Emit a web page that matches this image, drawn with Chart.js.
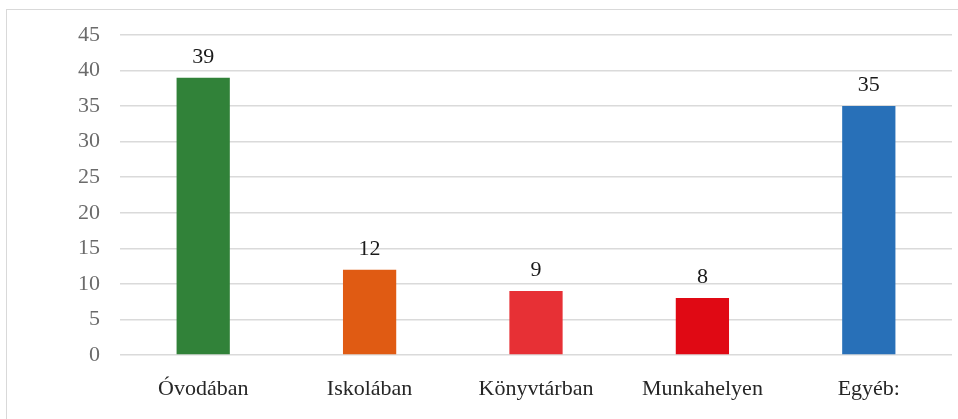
<!DOCTYPE html>
<html>
<head>
<meta charset="utf-8">
<script src="https://cdn.jsdelivr.net/npm/chart.js@4/dist/chart.umd.min.js"></script>
<style>
    html, body { margin: 0; padding: 0; background: #fff; overflow: hidden; }
    #wrap { position: relative; width: 958px; height: 419px; }
    #frame { position: absolute; left: 6px; top: 9px; width: 960px; height: 420px; border: 1px solid #d9d9d9; box-sizing: border-box; }
    #chart { position: absolute; left: 0; top: 0; }
</style>
</head>
<body>
<div id="wrap">
    <div id="frame"></div>
    <canvas id="chart" width="958" height="419"></canvas>
</div>
<script>
const categories = ['Óvodában', 'Iskolában', 'Könyvtárban', 'Munkahelyen', 'Egyéb:'];
const values = [39, 12, 9, 8, 35];
const barColors = ['#318239', '#e05b13', '#e73035', '#e00914', '#2870b8'];
const yTicks = [0, 5, 10, 15, 20, 25, 30, 35, 40, 45];

const serif = "'Liberation Serif', 'Times New Roman', serif";

// value labels above each bar
const valueLabels = {
    id: 'valueLabels',
    afterDatasetsDraw(chart) {
        const ctx = chart.ctx;
        const meta = chart.getDatasetMeta(0);
        ctx.save();
        ctx.font = '22px ' + serif;
        ctx.fillStyle = '#1a1a1a';
        ctx.textAlign = 'center';
        ctx.textBaseline = 'alphabetic';
        meta.data.forEach((bar, i) => {
            ctx.fillText(String(values[i]), bar.x, bar.y - 15);
        });
        ctx.restore();
    },
};

new Chart(document.getElementById('chart'), {
    type: 'bar',
    data: {
        labels: categories,
        datasets: [{
            data: values,
            backgroundColor: barColors,
            borderWidth: 0,
            barPercentage: 0.32,
            categoryPercentage: 1,
        }],
    },
    options: {
        responsive: false,
        animation: false,
        devicePixelRatio: 1,
        layout: { padding: { top: 35, right: 6, bottom: 0, left: 0 } },
        plugins: { legend: { display: false }, tooltip: { enabled: false } },
        scales: {
            x: {
                grid: { display: false },
                border: { display: false },
                ticks: { color: '#262626', font: { family: serif, size: 22 }, padding: 13, maxRotation: 0 },
                afterFit(scale) { scale.height = 64; },
            },
            y: {
                min: yTicks[0],
                max: yTicks[yTicks.length - 1],
                afterBuildTicks(scale) { scale.ticks = yTicks.map(v => ({ value: v })); },
                grid: { color: '#dadada', lineWidth: 1.5, drawTicks: false },
                border: { display: false },
                ticks: { color: '#6b6b6b', font: { family: serif, size: 22 }, padding: 20 },
                afterFit(scale) { scale.width = 120; },
            },
        },
    },
    plugins: [valueLabels],
});
</script>
</body>
</html>
